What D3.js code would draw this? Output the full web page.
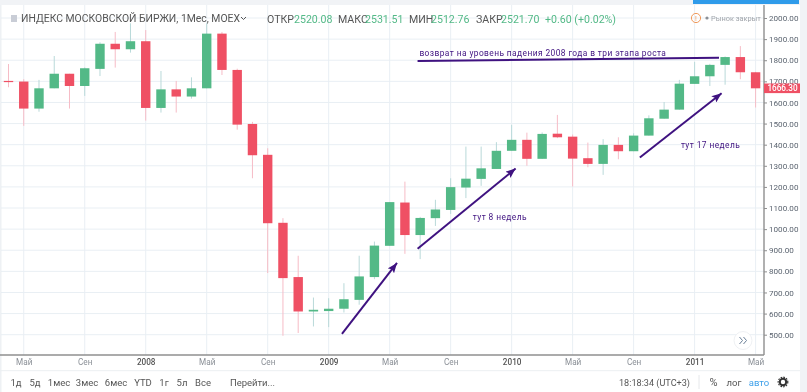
<!DOCTYPE html>
<html><head><meta charset="utf-8">
<script src="https://cdn.jsdelivr.net/npm/d3@7/dist/d3.min.js"></script>
<style>html,body{margin:0;background:#fff;overflow:hidden}svg{display:block;filter:blur(.45px)}text{font-family:Roboto,sans-serif}</style>
</head><body><svg id="c" width="807" height="392"></svg>
<script>
const opens  = [1702,1699,1571,1667,1736,1678,1759,1878,1852,1890,1574,1662,1628,1667,1926,1754,1498,1352,1030,773,610,612,623,665,773,921,1126,972,1052,1091,1197,1238,1285,1371,1423,1333,1452,1438,1336,1309,1399,1369,1443,1523,1566,1688,1724,1778,1815,1743];
const closes = [1698,1571,1667,1736,1678,1762,1878,1852,1890,1574,1662,1628,1667,1926,1754,1495,1350,1028,768,610,618,623,668,776,922,1128,972,1053,1093,1199,1239,1288,1371,1423,1333,1451,1435,1334,1309,1399,1369,1443,1525,1566,1689,1724,1778,1815,1743,1667];
const highs  = [1782,1710,1707,1820,1736,1766,1885,1934,1975,1943,1749,1702,1719,1975,1934,1760,1508,1383,1052,874,676,673,744,874,941,1128,1225,1058,1139,1241,1391,1391,1412,1494,1457,1458,1541,1448,1410,1426,1435,1454,1539,1602,1707,1792,1783,1818,1867,1745];
const lows   = [1672,1489,1556,1667,1571,1631,1725,1765,1836,1514,1552,1552,1618,1667,1730,1471,1241,792,495,508,539,536,605,642,763,921,883,858,1015,1072,1147,1205,1285,1371,1300,1333,1431,1202,1293,1257,1331,1369,1443,1523,1566,1688,1678,1684,1710,1576];
const priceTicks = [500,600,700,800,900,1000,1100,1200,1300,1400,1500,1600,1700,1800,1900,2000];
const timeTickIdx = [1,5,9,13,17,21,25,29,33,37,41,45,49];
const timeTickLabels = ["Май","Сен","2008","Май","Сен","2009","Май","Сен","2010","Май","Сен","2011","Май"];
const trendArrows = [[21.87,504,25.48,840],[26.83,907,33.26,1287],[41.41,1339,46.77,1644]];
const levelLine = [26.83,1796,46.6,1812];
const notes = [[26.95,1820,"возврат на уровень падения 2008 года в три этапа роста"],[30.45,1045,"тут 8 недель"],[44.1,1385,"тут 17 недель"]];
const rangeButtons = [["1д",16],["5д",35],["1мес",59],["3мес",87],["6мес",116],["YTD",143],["1г",164],["5л",182],["Все",203],["Перейти...",252.5]];
const UP="#53b987",DOWN="#ef5064",GRID="#e9eff4",AX="#8f8f8f",PURPLE="#3f1280";

const x=d3.scaleLinear().domain([0,49]).range([8.5,755.6]);
const y=d3.scaleLinear().domain([500,2000]).range([334.7,18]);
const svg=d3.select("#c");
const R=764,B=355;
svg.append("rect").attr("x",0).attr("y",0).attr("width",807).attr("height",5).attr("fill","#f1f3f6");
svg.append("rect").attr("x",693).attr("y",0).attr("width",106).attr("height",4).attr("fill","#2f9bea");
svg.append("rect").attr("x",800).attr("y",0).attr("width",7).attr("height",392).attr("fill","#f1f3f6");
svg.append("rect").attr("x",0).attr("y",5).attr("width",1.5).attr("height",387).attr("fill","#eef1f4");
svg.append("g").selectAll("line").data(priceTicks).join("line")
  .attr("x1",1).attr("x2",R).attr("y1",d=>y(d)).attr("y2",d=>y(d)).attr("stroke",GRID);
svg.append("g").selectAll("line").data(timeTickIdx).join("line")
  .attr("x1",d=>x(d)).attr("x2",d=>x(d)).attr("y1",5).attr("y2",B).attr("stroke",GRID);
const idx=d3.range(opens.length);
const col=i=>closes[i]>=opens[i]?UP:DOWN;
svg.append("g").selectAll("line").data(idx).join("line")
  .attr("x1",i=>x(i)).attr("x2",i=>x(i)).attr("y1",i=>y(highs[i])).attr("y2",i=>y(lows[i]))
  .attr("stroke",i=>closes[i]>=opens[i]?"#b9d9d9":"#f6bcc6");
svg.append("g").selectAll("rect").data(idx).join("rect")
  .attr("x",i=>x(i)-4.7).attr("width",9.4)
  .attr("y",i=>y(Math.max(opens[i],closes[i])))
  .attr("height",i=>Math.max(1.2,Math.abs(y(opens[i])-y(closes[i]))))
  .attr("fill",col);
const ay=svg.append("g").attr("transform",`translate(${R},0)`).call(d3.axisRight(y).tickValues(priceTicks).tickFormat(d3.format(".2f")).tickSize(3).tickPadding(2));
ay.select(".domain").remove();
ay.selectAll("text").attr("fill","#5b6470").attr("font-size",8.1).attr("font-family","Roboto");
ay.selectAll("line").attr("stroke",AX);
const ax=svg.append("g").attr("transform",`translate(0,${B})`).call(d3.axisBottom(x).tickValues(timeTickIdx).tickFormat((d,i)=>timeTickLabels[i]).tickSize(0).tickPadding(4));
ax.select(".domain").remove();
ax.selectAll("text").attr("fill",(d,i)=>/\d/.test(timeTickLabels[i])?"#555":"#8a8f96").attr("font-size",8.2).attr("font-family","Roboto").attr("font-weight",(d,i)=>/\d/.test(timeTickLabels[i])?500:400);
svg.append("line").attr("x1",0).attr("x2",R).attr("y1",B).attr("y2",B).attr("stroke",AX).attr("stroke-width",1.4);
svg.append("line").attr("x1",R).attr("x2",R).attr("y1",5).attr("y2",B).attr("stroke",AX).attr("stroke-width",1.4);
svg.append("line").attr("x1",0).attr("x2",800).attr("y1",370.7).attr("y2",370.7).attr("stroke","#eceff2");
const last=closes[closes.length-1];
svg.append("rect").attr("x",R).attr("y",y(last)-4.8).attr("width",36).attr("height",9.6).attr("fill",DOWN);
svg.append("text").attr("x",R+18.5).attr("y",y(last)+3).attr("text-anchor","middle").attr("fill","#fff").attr("font-size",8.2).attr("font-weight",500).text("1666.30");
svg.append("rect").attr("x",11).attr("y",15).attr("width",6).attr("height",7).attr("fill","#c9cdd6");
const T=(xx,yy,s,fs,fill,extra)=>{const t=svg.append("text").attr("x",xx).attr("y",yy).attr("font-size",fs).attr("fill",fill).text(s);if(extra)extra(t);return t;};
T(21,22,"ИНДЕКС МОСКОВСКОЙ БИРЖИ, 1Мес, МОЕХ",10.4,"#555");
svg.append("path").attr("d","M241 17l2.5 2.5 2.5-2.5").attr("fill","none").attr("stroke","#555");
[["ОТКР",267,"#555"],["2520.08",294,UP],["МАКС",338,"#555"],["2531.51",365,UP],["МИН",409,"#555"],["2512.76",431,UP],["ЗАКР",476,"#555"],["2521.70",501,UP],["+0.60 (+0.02%)",545,UP]].forEach(d=>T(d[1],22.5,d[0],10.6,d[2]));
svg.append("circle").attr("cx",696).attr("cy",18).attr("r",4.6).attr("fill","none").attr("stroke","#f0995a");
T(696,21,"!",7,"#f0995a",t=>t.attr("text-anchor","middle"));
svg.append("circle").attr("cx",707).attr("cy",18).attr("r",1.6).attr("fill","#8a8f96");
T(711,21,"Рынок закрыт",7.4,"#a2a6ac");
svg.append("defs").append("marker").attr("id","ah").attr("viewBox","0 0 10 8").attr("refX",10).attr("refY",4).attr("markerWidth",10).attr("markerHeight",8).attr("markerUnits","userSpaceOnUse").attr("orient","auto")
  .append("path").attr("d","M0 0L10 4L0 8L2 4Z").attr("fill",PURPLE);
svg.append("line").attr("x1",x(levelLine[0])).attr("y1",y(levelLine[1])).attr("x2",x(levelLine[2])).attr("y2",y(levelLine[3])).attr("stroke",PURPLE).attr("stroke-width",2);
svg.append("g").selectAll("line").data(trendArrows).join("line")
  .attr("x1",d=>x(d[0])).attr("y1",d=>y(d[1])).attr("x2",d=>x(d[2])).attr("y2",d=>y(d[3]))
  .attr("stroke",PURPLE).attr("stroke-width",2).attr("marker-end","url(#ah)");
svg.append("g").selectAll("text").data(notes).join("text")
  .attr("x",d=>x(d[0])).attr("y",d=>y(d[1])).attr("font-size",8.4).attr("letter-spacing",.42).attr("fill",PURPLE).text(d=>d[2]);
svg.append("circle").attr("cx",743).attr("cy",340.5).attr("r",9).attr("fill","#fff").attr("stroke","#eef0f3");
svg.append("path").attr("d","M739.5 337l3 3.5-3 3.5M743.5 337l3 3.5-3 3.5").attr("fill","none").attr("stroke","#6a7f97");
rangeButtons.forEach(d=>T(d[1],385.5,d[0],9.5,"#555",t=>t.attr("text-anchor","middle")));
T(654.5,385.5,"18:18:34 (UTC+3)",9.1,"#555",t=>t.attr("text-anchor","middle"));
svg.append("line").attr("x1",699).attr("x2",699).attr("y1",375).attr("y2",389).attr("stroke","#e6e8eb");
T(713.5,386,"%",11,"#555",t=>t.attr("text-anchor","middle"));
T(734,385.5,"лог",9.5,"#555",t=>t.attr("text-anchor","middle"));
T(759,385.5,"авто",9.5,"#3ea0ea",t=>t.attr("text-anchor","middle"));
svg.append("circle").attr("cx",783).attr("cy",382).attr("r",3.2).attr("fill","none").attr("stroke","#333").attr("stroke-width",2);
svg.append("circle").attr("cx",783).attr("cy",382).attr("r",4.8).attr("fill","none").attr("stroke","#333").attr("stroke-width",1.2).attr("stroke-dasharray","1.6 1.2");
</script></body></html>
